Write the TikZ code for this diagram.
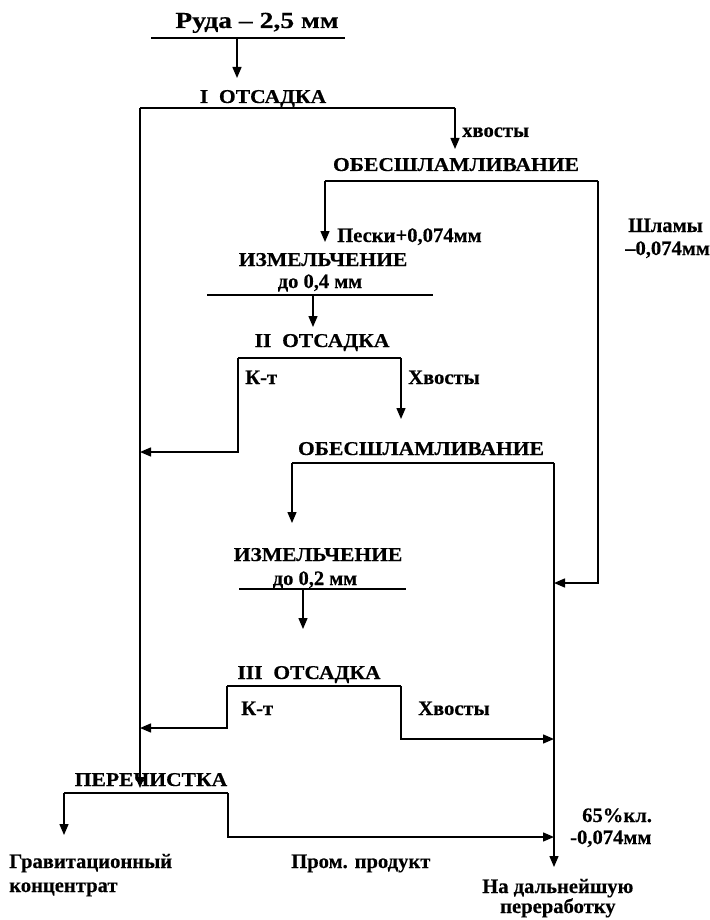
\documentclass[tikz,border=0pt]{standalone}
\usepackage{fontspec}
\newfontfamily\lblfont{Liberation Serif Bold}[FakeBold=0.4]
\newfontfamily\capsfont{Liberation Serif Bold}[FakeStretch=1.1,FakeBold=0.4]
\newfontfamily\headfont{Liberation Serif Bold}[FakeStretch=1.2,FakeBold=0.4]
\usetikzlibrary{arrows.meta}
\begin{document}
\begin{tikzpicture}[x=1pt,y=-1pt,
  flow/.style={line width=1.4pt,line join=miter},
  bar/.style={line width=1.6pt},
  arr/.style={flow,-{Triangle[length=11pt,width=9pt]}},
  titletext/.style={font=\headfont\fontsize{23}{26}\selectfont,inner sep=0pt,anchor=base},
  stage/.style={font=\capsfont\fontsize{19.6}{22}\selectfont,inner sep=0pt,anchor=base},
  sub/.style={font=\lblfont\fontsize{20.5}{23}\selectfont,inner sep=0pt,anchor=base},
  lbl/.style={font=\lblfont\fontsize{20.6}{23}\selectfont,inner sep=0pt,anchor=base west},
]
\useasboundingbox (0,0) rectangle (709,920);

% ---- operation captions ----
\node[titletext] (ruda)  at (257,28)  {Руда – 2,5 мм};
\node[stage] (ots1)  at (263,103) {I\ \ ОТСАДКА};
\node[stage] (obs1)  at (456,171) {ОБЕСШЛАМЛИВАНИЕ};
\node[stage] (izm1)  at (323,266) {ИЗМЕЛЬЧЕНИЕ};
\node[sub]   (izm1s) at (320,288) {до 0,4 мм};
\node[stage] (ots2)  at (322,347) {II\ \ ОТСАДКА};
\node[stage] (obs2)  at (421,455) {ОБЕСШЛАМЛИВАНИЕ};
\node[stage] (izm2)  at (318,561) {ИЗМЕЛЬЧЕНИЕ};
\node[sub]   (izm2s) at (315,585) {до 0,2 мм};
\node[stage] (ots3)  at (309,679) {III\ \ ОТСАДКА};
\node[stage] (pere)  at (151,786) {ПЕРЕЧИСТКА};

% ---- product labels ----
\node[lbl] (t1)   at (462,137) {хвосты};
\node[lbl] (sand) at (337,242) {Пески+0,074мм};
\node[lbl] (sl1)  at (628,232) {Шламы};
\node[lbl] (sl2)  at (625,255) {–0,074мм};
\node[lbl] (k2)   at (245,384) {К-т};
\node[lbl] (t2)   at (408,384) {Хвосты};
\node[lbl] (k3)   at (241,715) {К-т};
\node[lbl] (t3)   at (418,715) {Хвосты};
\node[lbl] (f1)   at (582,822) {65\%кл.};
\node[lbl] (f2)   at (570,844) {-0,074мм};
\node[lbl] (gc1)  at (9,868)   {Гравитационный};
\node[lbl] (gc2)  at (9,892)   {концентрат};
\node[lbl] (mid)  at (291,868) {Пром. продукт};
\node[lbl] (nx1)  at (482,893) {На дальнейшую};
\node[lbl] (nx2)  at (500,913) {переработку};

% ---- junction points ----
\coordinate (b0l) at (151,38);  \coordinate (b0r) at (345,38);  \coordinate (b0m) at (237,38);
\coordinate (in1) at (237,78);
\coordinate (b1l) at (140,108); \coordinate (b1r) at (455,108);
\coordinate (in2) at (455,149);
\coordinate (cin) at (140,788);
\coordinate (b2l) at (325,181); \coordinate (b2r) at (598,181);
\coordinate (in3) at (325,242);
\coordinate (s1)  at (598,583); \coordinate (s2) at (554,583);
\coordinate (b3l) at (207,295); \coordinate (b3r) at (433,295); \coordinate (b3m) at (313,295);
\coordinate (in4) at (313,327);
\coordinate (b4l) at (238,358); \coordinate (b4r) at (401,358);
\coordinate (k2a) at (238,452); \coordinate (k2b) at (140,452);
\coordinate (in5) at (401,419);
\coordinate (b5l) at (292,463); \coordinate (b5r) at (554,463);
\coordinate (in6) at (292,523);
\coordinate (out) at (554,867);
\coordinate (b6l) at (239,589); \coordinate (b6r) at (406,589); \coordinate (b6m) at (303,589);
\coordinate (in7) at (303,629);
\coordinate (b7l) at (227,686); \coordinate (b7r) at (401,686);
\coordinate (k3a) at (227,728); \coordinate (k3b) at (140,728);
\coordinate (t3a) at (401,739); \coordinate (t3b) at (554,739);
\coordinate (b8l) at (64,793);  \coordinate (b8r) at (228,793);
\coordinate (gc)  at (64,835);
\coordinate (m1)  at (228,837); \coordinate (m2) at (554,837);

% ---- flow lines ----
\draw[bar] (b0l) -- (b0r);
\draw[arr] (b0m) -- (in1);

\draw[flow] (b1l) -- (b1r);
\draw[arr]  (b1r) -- (in2);
\draw[arr]  (b1l) -- (cin);

\draw[flow] (b2l) -- (b2r);
\draw[arr]  (b2l) -- (in3);
\draw[arr]  (b2r) -- (s1) -- (s2);

\draw[flow] (b3l) -- (b3r);
\draw[arr]  (b3m) -- (in4);

\draw[flow] (b4l) -- (b4r);
\draw[arr]  (b4l) -- (k2a) -- (k2b);
\draw[arr]  (b4r) -- (in5);

\draw[flow] (b5l) -- (b5r);
\draw[arr]  (b5l) -- (in6);
\draw[arr]  (b5r) -- (out);

\draw[flow] (b6l) -- (b6r);
\draw[arr]  (b6m) -- (in7);

\draw[flow] (b7l) -- (b7r);
\draw[arr]  (b7l) -- (k3a) -- (k3b);
\draw[arr]  (b7r) -- (t3a) -- (t3b);

\draw[flow] (b8l) -- (b8r);
\draw[arr]  (b8l) -- (gc);
\draw[arr]  (b8r) -- (m1) -- (m2);
\end{tikzpicture}
\end{document}
